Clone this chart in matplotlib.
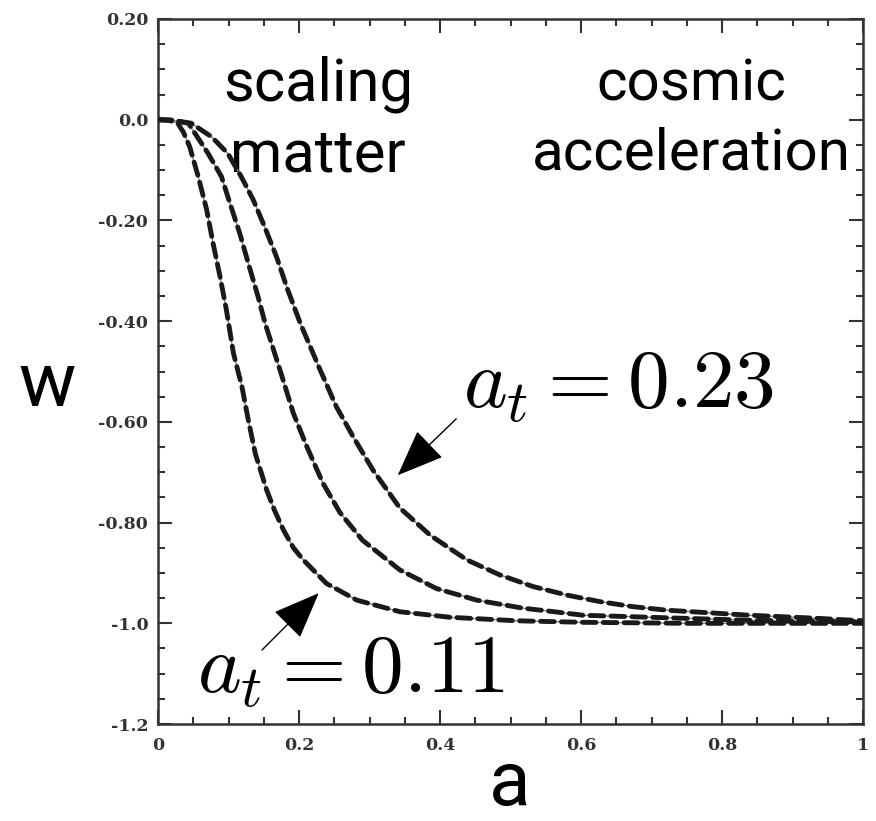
import matplotlib.pyplot as plt
from matplotlib.ticker import FixedLocator, FixedFormatter, MultipleLocator

# curves (a, w)
a_011 = [0, 0.015, 0.028, 0.036, 0.045, 0.057, 0.069, 0.078, 0.088, 0.097, 0.107, 0.119, 0.128, 0.138,
         0.154, 0.165, 0.178, 0.192, 0.206, 0.239, 0.282, 0.343, 0.414, 0.509, 0.603, 0.75, 1.0]
w_011 = [0, -0.001, -0.007, -0.025, -0.054, -0.113, -0.179, -0.245, -0.312, -0.378, -0.464, -0.530, -0.596, -0.663,
         -0.735, -0.775, -0.815, -0.850, -0.874, -0.921, -0.954, -0.977, -0.988, -0.995, -0.998, -1.0, -1.0]

a_mid = [0, 0.02, 0.043, 0.071, 0.090, 0.102, 0.116, 0.128, 0.142, 0.152, 0.173, 0.192, 0.211, 0.234,
         0.258, 0.29, 0.343, 0.395, 0.452, 0.518, 0.556, 0.603, 0.651, 0.745, 0.84, 1.0]
w_mid = [0, -0.001, -0.007, -0.067, -0.113, -0.166, -0.226, -0.285, -0.352, -0.405, -0.497, -0.583, -0.649, -0.722,
         -0.78, -0.835, -0.894, -0.931, -0.954, -0.970, -0.976, -0.984, -0.986, -0.990, -0.994, -0.997]

a_023 = [0, 0.02, 0.047, 0.076, 0.099, 0.118, 0.135, 0.151, 0.168, 0.184, 0.202, 0.230, 0.253, 0.277,
         0.305, 0.343, 0.386, 0.438, 0.485, 0.532, 0.58, 0.627, 0.674, 0.722, 0.769, 0.84, 0.934, 1.0]
w_023 = [0, -0.001, -0.007, -0.034, -0.067, -0.113, -0.159, -0.212, -0.272, -0.338, -0.405, -0.497, -0.570, -0.630,
         -0.696, -0.771, -0.825, -0.874, -0.904, -0.927, -0.944, -0.957, -0.967, -0.974, -0.978, -0.984, -0.990, -0.995]

xticks = [0, 0.2, 0.4, 0.6, 0.8, 1.0]
xticklabels = ['0', '0.2', '0.4', '0.6', '0.8', '1']
yticks = [0.2, 0.0, -0.2, -0.4, -0.6, -0.8, -1.0, -1.2]
yticklabels = ['0.20', '0.0', '-0.20', '-0.40', '-0.60', '-0.80', '-1.0', '-1.2']

plt.rcParams['mathtext.fontset'] = 'cm'

fig = plt.figure(figsize=(8.76, 8.21), dpi=100)
ax = fig.add_axes([0.1804, 0.1181, 0.8048, 0.8588])

for a, w in [(a_011, w_011), (a_mid, w_mid), (a_023, w_023)]:
    ax.plot(a, w, color='#8a8a8a', lw=1.0, zorder=2)
    ax.plot(a, w, color='#1a1a1a', lw=3.5, dashes=(2.8, 1.5), dash_capstyle='round', zorder=3)

ax.set_xlim(0, 1)
ax.set_ylim(-1.2, 0.2)

ax.xaxis.set_major_locator(FixedLocator(xticks))
ax.xaxis.set_major_formatter(FixedFormatter(xticklabels))
ax.yaxis.set_major_locator(FixedLocator(yticks))
ax.yaxis.set_major_formatter(FixedFormatter(yticklabels))
ax.xaxis.set_minor_locator(MultipleLocator(0.05))
ax.yaxis.set_minor_locator(MultipleLocator(0.05))

ax.tick_params(which='both', direction='in', top=True, right=True, color='#333333', width=1.5)
ax.tick_params(which='major', length=10)
ax.tick_params(which='minor', length=5)
ax.tick_params(axis='y', pad=7)
ax.tick_params(axis='x', pad=9)
for lab in ax.get_xticklabels() + ax.get_yticklabels():
    lab.set_fontfamily('DejaVu Serif')
    lab.set_fontweight('bold')
    lab.set_fontsize(12.5)
    lab.set_color('#333333')
for sp in ax.spines.values():
    sp.set_color('#333333')
    sp.set_linewidth(1.8)

# region labels
ax.text(0.227, 0.0, 'scaling\nmatter', fontsize=43, fontfamily='Roboto', ha='center', va='center',
        linespacing=1.3, zorder=1)
ax.text(0.757, 0.0, 'cosmic\nacceleration', fontsize=42, fontfamily='Roboto', ha='center', va='center',
        linespacing=1.33, zorder=1)

# a_t labels and arrows
ax.text(0.433, -0.573, r'$a_t = 0.23$', fontsize=60, ha='left', va='baseline')
ax.text(0.055, -1.139, r'$a_t = 0.11$', fontsize=60, ha='left', va='baseline')
arrow = dict(arrowstyle='-|>,head_length=1.5,head_width=0.6', color='black', lw=1.0,
             shrinkA=0, shrinkB=0, mutation_scale=20)
ax.annotate('', xy=(0.340, -0.706), xytext=(0.423, -0.594), arrowprops=arrow)
ax.annotate('', xy=(0.228, -0.940), xytext=(0.1475, -1.053), arrowprops=arrow)

fig.text(47 / 876, 1 - 385 / 821, 'w', fontsize=55, fontfamily='Roboto', ha='center', va='center')
fig.text(510 / 876, 0.0, 'a', fontsize=55, fontfamily='Roboto', ha='center', va='bottom')

fig.savefig('out.png', dpi=100)
